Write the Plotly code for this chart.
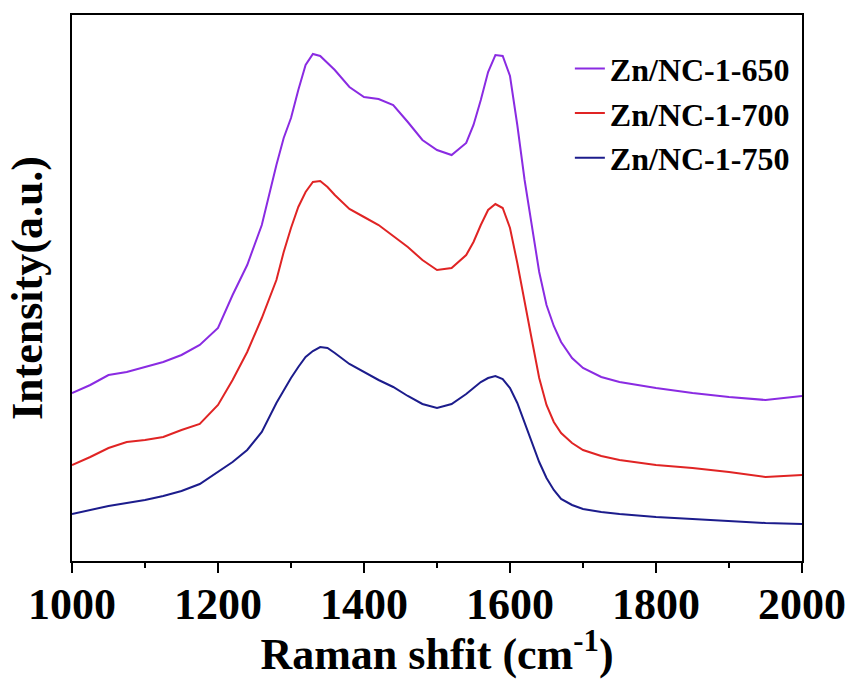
import plotly.graph_objects as go

raman_shift = [1000, 1025, 1050, 1075, 1100, 1125, 1150, 1175, 1200, 1220, 1240, 1260, 1280, 1290,
               1300, 1310, 1320, 1330, 1340, 1350, 1360, 1380, 1400, 1420, 1440, 1460, 1480, 1500,
               1520, 1540, 1550, 1560, 1570, 1580, 1590, 1600, 1610, 1620, 1630, 1640, 1650, 1660,
               1670, 1685, 1700, 1725, 1750, 1800, 1850, 1900, 1950, 2000]

zn_650 = [168, 176, 186, 189, 194, 199, 206, 216, 233, 266, 296, 336, 396, 423,
          443, 471, 496, 507, 505, 498, 491, 474, 464, 462, 456, 439, 421, 411,
          406, 418, 436, 461, 489, 506, 505, 485, 436, 381, 333, 289, 256, 235,
          219, 203, 193, 184, 179, 173, 168, 164, 161, 165]

zn_700 = [96, 104, 113, 119, 121, 124, 131, 137, 156, 181, 209, 243, 281, 309,
          333, 354, 369, 379, 380, 374, 366, 352, 344, 336, 325, 314, 301, 291,
          293, 306, 319, 336, 351, 357, 353, 333, 298, 261, 221, 183, 156, 139,
          128, 118, 111, 105, 101, 96, 93, 89, 84, 86]

zn_750 = [47, 51, 55, 58, 61, 65, 70, 77, 89, 99, 111, 129, 158, 171,
          183, 194, 204, 210, 214, 213, 208, 197, 189, 181, 174, 165, 157, 153,
          157, 167, 173, 179, 183, 185, 182, 173, 158, 138, 118, 99, 83, 71,
          62, 56, 52, 49, 47, 44, 42, 40, 38, 37]

series_names = ["Zn/NC-1-650", "Zn/NC-1-700", "Zn/NC-1-750"]
series_values = [zn_650, zn_700, zn_750]
series_colors = ["#8a2be2", "#e02424", "#1c1c8c"]

x_ticks = [1000, 1200, 1400, 1600, 1800, 2000]

FONT = "Liberation Serif, Times New Roman, serif"

fig = go.Figure()
for name, vals, col in zip(series_names, series_values, series_colors):
    fig.add_trace(go.Scatter(x=raman_shift, y=vals, mode="lines", name=name,
                             line=dict(color=col, width=2)))

fig.update_layout(
    width=846, height=679,
    margin=dict(l=72, r=44, t=15, b=118),
    plot_bgcolor="white", paper_bgcolor="white",
    showlegend=True,
    legend=dict(x=0.682, y=0.952, xanchor="left", yanchor="top",
                font=dict(family=FONT, size=32, color="black", weight="bold"),
                bgcolor="rgba(0,0,0,0)", tracegroupgap=0),
    font=dict(family=FONT, color="black"),
)
fig.update_xaxes(
    range=[1000, 2000], tickvals=x_ticks, ticktext=[str(v) for v in x_ticks],
    automargin=False, ticklabelstandoff=-7,
    showline=True, linecolor="black", linewidth=2, mirror=True,
    ticks="outside", ticklen=10, tickwidth=2, tickcolor="black",
    minor=dict(dtick=100, ticks="outside", ticklen=5, tickwidth=2, tickcolor="black", showgrid=False),
    showgrid=False, zeroline=False,
    tickfont=dict(family=FONT, size=44, color="black", weight="bold"),
    title=dict(text="Raman shfit (cm<sup>-1</sup>)", standoff=12,
               font=dict(family=FONT, size=44, color="black", weight="bold")),
)
fig.update_yaxes(
    range=[0, 546], showticklabels=False, ticks="",
    automargin=False,
    showline=True, linecolor="black", linewidth=2, mirror=True,
    showgrid=False, zeroline=False,
    title=dict(text="Intensity(a.u.)", standoff=14,
               font=dict(family=FONT, size=44, color="black", weight="bold")),
)

fig.write_html("out.html")
